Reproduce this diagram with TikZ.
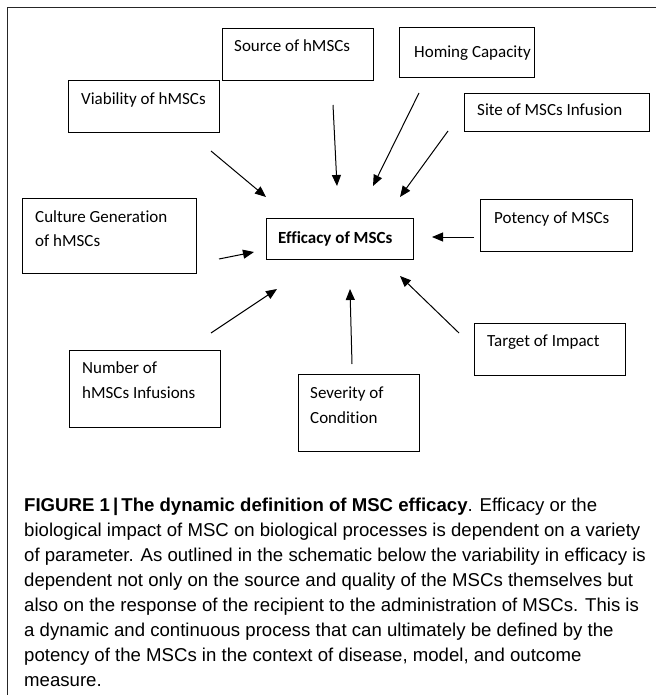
\documentclass[tikz,border=0pt]{standalone}
\usepackage{fontspec}
\setmainfont{Carlito}[Ligatures=NoCommon]
\newfontfamily\capfont{Liberation Sans}
\usetikzlibrary{arrows.meta}
\begin{document}
\begin{tikzpicture}[x=1pt,y=-1pt,
  box/.style={draw, line width=1.1pt, inner sep=0pt, anchor=north west},
  lbl/.style={anchor=base west, inner sep=0pt, font=\fontsize{17}{25}\selectfont},
  arr/.style={line width=1pt, -{Triangle[length=11pt,width=9pt]}},
  capline/.style={anchor=base west, inner sep=0pt, font=\capfont\fontsize{18.6}{25}\selectfont},
  frame/.style={line width=1.2pt, draw=black!85}
]
\useasboundingbox (0,0) rectangle (656,695);
% outer frame (top and left)
\coordinate (fTR) at (656,7.5);
\coordinate (fTL) at (7.5,7.5);
\coordinate (fBL) at (7.5,695);
\draw[frame] (fTR) -- (fTL) -- (fBL);

% boxes
\node[box, minimum width=151pt, minimum height=52pt] (src) at (222,28) {};
\node[box, minimum width=135pt, minimum height=50pt] (hom) at (399,27) {};
\node[box, minimum width=151pt, minimum height=52pt] (via) at (68,80) {};
\node[box, minimum width=185pt, minimum height=38pt] (site) at (464,93) {};
\node[box, minimum width=174pt, minimum height=75pt] (cul) at (22,198) {};
\node[box, minimum width=147pt, minimum height=41pt] (eff) at (266,218) {};
\node[box, minimum width=152pt, minimum height=52pt] (pot) at (480,199) {};
\node[box, minimum width=151pt, minimum height=52pt] (tgt) at (474,323) {};
\node[box, minimum width=151pt, minimum height=77pt] (num) at (69,350) {};
\node[box, minimum width=121pt, minimum height=77pt] (sev) at (298,374) {};

% labels
\node[lbl] (srcT) at (234,52) {Source of hMSCs};
\node[lbl] (homT) at (414,58) {Homing Capacity};
\node[lbl] (viaT) at (81,105) {Viability of hMSCs};
\node[lbl] (siteT) at (477,116) {Site of MSCs Infusion};
\node[lbl] (culT1) at (35,222) {Culture Generation};
\node[lbl] (culT2) at (35,246) {of hMSCs};
\node[lbl] (effT) at (278,243) {\bfseries Efficacy of MSCs};
\node[lbl] (potT) at (494,223) {Potency of MSCs};
\node[lbl] (tgtT) at (487,346) {Target of Impact};
\node[lbl] (numT1) at (82,373) {Number of};
\node[lbl] (numT2) at (82,398) {hMSCs Infusions};
\node[lbl] (sevT1) at (310,398) {Severity of};
\node[lbl] (sevT2) at (310,423) {Condition};

% arrow end points
\coordinate (aViaS) at (211,151); \coordinate (aViaE) at (266,197);
\coordinate (aSrcS) at (333,105); \coordinate (aSrcE) at (337,186);
\coordinate (aHomS) at (419,93);  \coordinate (aHomE) at (373,186);
\coordinate (aSitS) at (448,131); \coordinate (aSitE) at (400,197);
\coordinate (aCulS) at (219,259); \coordinate (aCulE) at (254,252);
\coordinate (aPotS) at (474,237); \coordinate (aPotE) at (432,237);
\coordinate (aNumS) at (211,333); \coordinate (aNumE) at (277,289);
\coordinate (aSevS) at (352,364); \coordinate (aSevE) at (350,289);
\coordinate (aTgtS) at (459,333); \coordinate (aTgtE) at (400,276);

\draw[arr] (aViaS) -- (aViaE);
\draw[arr] (aSrcS) -- (aSrcE);
\draw[arr] (aHomS) -- (aHomE);
\draw[arr] (aSitS) -- (aSitE);
\draw[arr] (aCulS) -- (aCulE);
\draw[arr] (aPotS) -- (aPotE);
\draw[arr] (aNumS) -- (aNumE);
\draw[arr] (aSevS) -- (aSevE);
\draw[arr] (aTgtS) -- (aTgtE);

% caption
\node[capline] (c1) at (24,511) {\textbf{FIGURE 1\,|\,The dynamic definition of MSC efficacy}. Efficacy or the};
\node[capline] (c2) at (24,536) {biological impact of MSC on biological processes is dependent on a variety};
\node[capline] (c3) at (24,561) {of parameter. As outlined in the schematic below the variability in efficacy is};
\node[capline] (c4) at (24,586) {dependent not only on the source and quality of the MSCs themselves but};
\node[capline] (c5) at (24,611) {also on the response of the recipient to the administration of MSCs. This is};
\node[capline] (c6) at (24,636) {a dynamic and continuous process that can ultimately be defined by the};
\node[capline] (c7) at (24,661) {potency of the MSCs in the context of disease, model, and outcome};
\node[capline] (c8) at (24,686) {measure.};
\end{tikzpicture}
\end{document}
